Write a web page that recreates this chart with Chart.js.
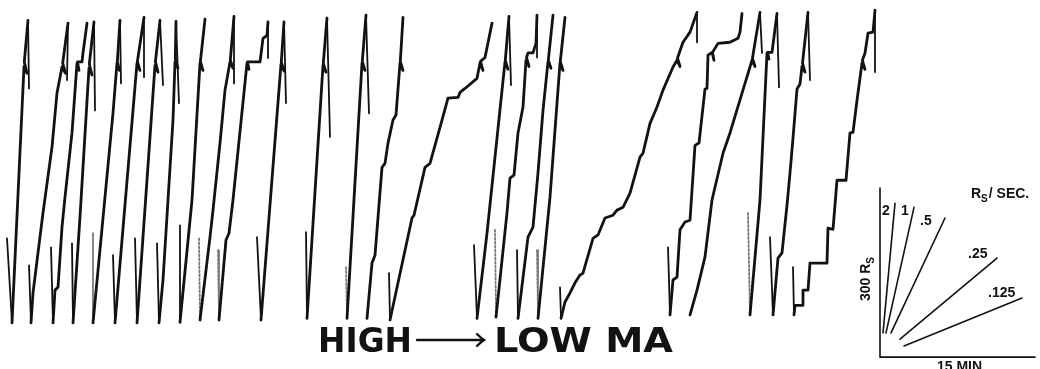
<!DOCTYPE html>
<html>
<head>
<meta charset="utf-8">
<title>Cumulative records, high to low MA</title>
<script src="https://cdn.jsdelivr.net/npm/chart.js@4.4.1/dist/chart.umd.min.js"></script>
<style>
  html, body { margin: 0; padding: 0; background: #fff; }
  #wrap { width: 1040px; height: 369px; }
</style>
</head>
<body>
<div id="wrap"><canvas id="registro" width="1040" height="369"></canvas></div>
<script>
// Cumulative records. x = minutes, y = cumulative responses (the pen resets near 550).
// Each record: short reset line at the bottom, the rise, the reinforcement pip, the tail at the top.
const rec01 = [[0.7,154],[1.2,4],[2.4,459],[2.7,447],[2.43,467],[2.8,541],[2.9,420]];
const rec02 = [[2.9,106],[3.1,4],[3.3,57],[4.3,199],[5.2,316],[5.7,412],[6.2,458],[6.55,447],[6.27,465],[6.8,536],[6.7,435]];
const rec03 = [[5.1,138],[5.3,4],[5.5,62],[5.8,67],[6.2,174],[6.5,227],[7.2,341],[7.7,465],[7.9,452],[7.75,467],[8.2,467],[8.3,483],[8.7,536]];
const rec04 = [[7.2,145],[7.3,4],[8.0,192],[8.9,456],[9.2,444],[8.93,463],[9.4,538],[9.5,381]];
const rec05 = [[9.3,163],[9.3,4],[11.3,376],[11.7,465],[11.95,452],[11.73,467],[12.0,541],[12.1,429]];
const rec06 = [[11.3,124],[11.5,4],[13.7,465],[14.0,452],[13.74,468],[14.4,546],[14.4,440]];
const rec07 = [[13.5,154],[13.7,4],[15.5,461],[15.8,449],[15.54,467],[16.0,541],[16.3,426]];
const rec08 = [[15.7,145],[15.9,4],[16.3,80],[17.3,364],[17.5,467],[17.8,456],[17.53,472],[17.6,539],[17.9,394]];
const rec09 = [[18.0,177],[18.0,5],[19.2,222],[20.0,465],[20.3,452],[20.04,468],[20.5,543]];
const rec10 = [[19.9,154],[20.0,9],[21.0,156],[21.3,204],[22.0,323],[22.5,417],[23.0,467],[23.3,456],[23.03,470],[23.4,548],[23.4,429]];
const rec11 = [[21.8,133],[21.9,9],[22.6,151],[22.9,163],[23.3,222],[24.7,465],[24.9,454],[24.75,467],[26.0,467],[26.3,509],[26.7,514],[26.8,538],[26.8,474]];
const rec12 = [[25.7,156],[26.1,9],[28.1,463],[28.4,451],[28.13,467],[28.4,538],[28.6,394]];
const rec13 = [[30.6,165],[30.7,12],[32.3,461],[32.6,449],[32.33,465],[32.7,545],[33.0,334]];
const rec14 = [[34.6,103],[34.7,12],[36.2,465],[36.5,452],[36.23,468],[36.6,550],[36.9,376]];
const rec15 = [[36.7,12],[37.2,110],[37.5,124],[38.2,280],[38.5,287],[38.8,323],[39.3,364],[39.6,373],[40.0,465],[40.3,452],[40.03,468],[40.3,546]];
const rec16 = [[38.9,92],[39.0,9],[41.2,190],[41.4,195],[42.5,280],[43.0,287],[44.0,351],[44.8,403],[45.8,404],[46.0,413],[46.5,420],[47.7,438],[48.0,465],[48.3,452],[48.05,468],[48.5,475],[49.2,536]];
const rec17 = [[47.4,142],[47.7,12],[48.7,163],[50.5,467],[50.8,454],[50.53,470],[50.9,548],[51.1,426]];
const rec18 = [[49.5,169],[49.6,14],[50.7,199],[51.0,261],[51.4,266],[51.8,341],[52.3,387],[52.6,470],[52.9,459],[52.65,475],[52.8,483],[53.3,483],[53.6,500],[53.7,550],[53.7,475]];
const rec19 = [[51.7,133],[51.8,12],[52.8,156],[53.3,174],[53.8,270],[54.3,381],[54.8,467],[55.1,456],[54.83,470],[55.3,550]];
const rec20 = [[53.7,133],[53.8,12],[55.0,227],[56.0,465],[56.3,452],[56.03,468],[56.5,546]];
const rec21 = [[56.0,67],[56.1,12],[56.5,41],[57.0,57],[57.5,75],[58.0,89],[58.3,92],[59.3,154],[59.8,160],[60.5,190],[61.3,195],[61.7,204],[62.3,209],[63.0,234],[64.0,298],[64.3,305],[65.0,358],[65.7,387],[66.3,417],[67.3,458],[67.7,470],[68.0,459],[67.75,474],[68.3,502],[69.0,520],[69.7,555],[69.7,502]];
const rec22 = [[66.8,138],[67.0,18],[67.3,80],[67.7,85],[68.0,169],[68.5,183],[69.0,186],[69.5,319],[69.9,323],[70.5,419],[70.7,420],[70.8,479],[71.2,484],[71.4,470],[71.25,484],[71.8,500],[73.0,502],[73.8,509],[74.0,520],[74.2,553]];
const rec23 = [[69.0,18],[69.7,62],[70.5,121],[71.2,222],[72.3,305],[73.0,341],[74.5,429],[75.2,470],[75.5,459],[75.25,474],[76.0,555],[76.2,483]];
const rec24 = [[74.8,199],[75.0,18],[76.0,222],[76.7,483],[76.9,472],[76.75,484],[77.2,484],[77.7,553],[77.9,422]];
const rec25 = [[77.0,156],[77.3,18],[77.8,119],[78.2,128],[78.7,213],[79.0,270],[79.3,332],[79.7,419],[80.0,428],[80.2,459],[80.5,449],[80.25,465],[80.8,555],[81.0,435]];
const rec26 = [[79.3,103],[79.4,18],[79.5,35],[80.2,35],[80.3,62],[80.8,62],[81.0,110],[82.7,110],[82.8,172],[83.3,170],[83.7,257],[84.6,257],[85.0,341],[85.3,342],[85.7,399],[86.2,465],[86.5,454],[86.24,470],[86.5,483],[86.8,518],[87.3,520],[87.5,559],[87.5,449]];

const records = [rec01, rec02, rec03, rec04, rec05, rec06, rec07, rec08, rec09, rec10, rec11, rec12, rec13,
                 rec14, rec15, rec16, rec17, rec18, rec19, rec20, rec21, rec22, rec23, rec24, rec25, rec26];

// records whose bottom reset line is only faintly printed
const faintLeads = [5, 10, 11, 14, 18, 20, 24];

// rate key: 300 responses tall, 15 minutes wide
const keyAxes = [[88.0, 243], [88.0, -57], [103.5, -57]];
const rate2 = [[88.3, -14], [89.5, 216]];
const rate1 = [[88.6, -14], [91.4, 209]];
const rate05 = [[89.1, -14], [94.5, 190]];
const rate025 = [[90.0, -25], [99.7, 119]];
const rate0125 = [[90.4, -37], [102.2, 48]];
const rateLabels = ['2', '1', '.5', '.25', '.125'];

const INK = '#121212';

function toXY(pts) {
    return pts.map(p => ({ x: p[0], y: p[1] }));
}

// draw text squeezed or stretched to a given width
function fitText(ctx, txt, x, y, width) {
    const w = ctx.measureText(txt).width;
    ctx.save();
    ctx.translate(x, y);
    ctx.scale(width / w, 1);
    ctx.fillText(txt, 0, 0);
    ctx.restore();
}

const textos = {
    id: 'textos',
    afterDraw(chart) {
        const ctx = chart.ctx;
        ctx.save();
        ctx.fillStyle = INK;
        ctx.strokeStyle = INK;
        ctx.textBaseline = 'alphabetic';

        // caption under the records
        ctx.font = 'bold 33px "DejaVu Sans"';
        fitText(ctx, 'HIGH', 318, 352, 94);
        fitText(ctx, 'LOW MA', 494, 352, 179);
        ctx.lineWidth = 2.4;
        ctx.lineCap = 'round';
        ctx.beginPath();
        ctx.moveTo(417, 340);
        ctx.lineTo(483, 340);
        ctx.stroke();
        ctx.beginPath();
        ctx.moveTo(477, 334);
        ctx.quadraticCurveTo(481, 338, 484, 340);
        ctx.quadraticCurveTo(481, 342, 477, 346);
        ctx.stroke();

        // rate key labels
        ctx.font = 'bold 14px "Liberation Sans"';
        const pos = [[882, 215], [901, 215], [920, 225], [968, 258], [988, 297]];
        rateLabels.forEach((t, i) => ctx.fillText(t, pos[i][0], pos[i][1]));

        // Rs / SEC.
        let x = 971;
        ctx.fillText('R', x, 198);
        x += ctx.measureText('R').width;
        ctx.font = 'bold 10px "Liberation Sans"';
        ctx.fillText('S', x, 202);
        x += ctx.measureText('S').width + 1;
        ctx.font = 'bold 14px "Liberation Sans"';
        ctx.fillText('/ SEC.', x, 198);

        // 15 MIN
        ctx.fillText('15 MIN', 937, 371);

        // 300 Rs, vertical
        ctx.save();
        ctx.translate(870, 301);
        ctx.rotate(-Math.PI / 2);
        ctx.fillText('300 R', 0, 0);
        const w = ctx.measureText('300 R').width;
        ctx.font = 'bold 10px "Liberation Sans"';
        ctx.fillText('S', w, 4);
        ctx.restore();

        ctx.restore();
    }
};

const datasets = records.map((pts, i) => ({
    label: 'registro ' + (i + 1),
    data: toXY(pts),
    borderColor: INK,
    borderWidth: 2.8,
    segment: {
        // reset lines (first segment going down, last segment dropping from the top) are thinner
        borderWidth: c => {
            const down = c.p1.parsed.y < c.p0.parsed.y;
            if (down && (c.p0DataIndex === 0 || c.p1DataIndex === pts.length - 1)) return 1.8;
            return undefined;
        },
        borderDash: c => (c.p0DataIndex === 0 && faintLeads.includes(i + 1)) ? [2, 2] : undefined,
        borderColor: c => (c.p0DataIndex === 0 && faintLeads.includes(i + 1)) ? '#777' : undefined
    }
}));

[keyAxes, rate2, rate1, rate05, rate025, rate0125].forEach((pts, i) => {
    datasets.push({
        label: i === 0 ? 'clave' : 'tasa ' + rateLabels[i - 1],
        data: toXY(pts),
        borderColor: INK,
        borderWidth: 1.6
    });
});

new Chart(document.getElementById('registro'), {
    type: 'line',
    data: { datasets: datasets },
    options: {
        responsive: false,
        animation: false,
        devicePixelRatio: 1,
        layout: { padding: 0 },
        plugins: {
            legend: { display: false },
            tooltip: { enabled: false }
        },
        elements: {
            point: { radius: 0 },
            line: { tension: 0, fill: false, borderCapStyle: 'round', borderJoinStyle: 'round' }
        },
        scales: {
            x: { type: 'linear', min: 0, max: 104, display: false },
            y: { type: 'linear', min: -78, max: 577, display: false }
        }
    },
    plugins: [textos]
});
</script>
</body>
</html>
